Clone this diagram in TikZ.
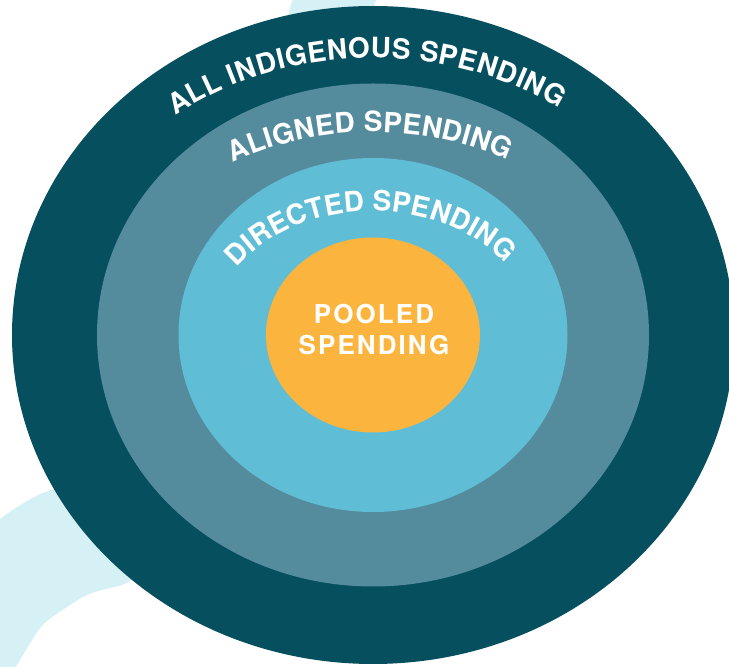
\documentclass[tikz,border=0pt]{standalone}
\usepackage{fontspec}
\usetikzlibrary{decorations.text}

\newfontfamily\heros{TeX Gyre Heros}
\newfontfamily\herosspaced{TeX Gyre Heros}[LetterSpace=8]
\newcommand\ringlabelfont{\heros\bfseries\fontsize{28}{32}\selectfont}

\definecolor{ringdark}{HTML}{054F5F}
\definecolor{ringmid}{HTML}{548B9D}
\definecolor{ringlight}{HTML}{5FBDD6}
\definecolor{pooledfill}{HTML}{FBB53F}
\definecolor{brush}{HTML}{D6F1F5}

\tikzset{
  ringtext/.style={decorate, decoration={text along path, text align=fit to path,
    text color=white, text={|\ringlabelfont|#1}}},
  pooledtext/.style={text=white, align=center,
    font=\herosspaced\bfseries\fontsize{26}{31}\selectfont}
}

\begin{document}
\begin{tikzpicture}[x=1pt,y=1pt]
  % Fix the page to the size of the picture
  \useasboundingbox (0,0) rectangle (729,667);
  \clip (0,0) rectangle (729,667);
  \coordinate (c) at (373,332);

  % Brush strokes behind the rings
  \fill[brush, rounded corners=6pt] (294,672) -- (380,672) -- (366,650) -- (286,645) -- cycle;
  \fill[brush, rounded corners=10pt] (-5,145) -- (20,162) -- (43,175) -- (60,179) -- (150,107)
    -- (130,84) -- (87,73) -- (67,60) -- (43,44) -- (27,19) -- (13,-5) -- (-5,-5) -- cycle;

  % Rings from the outside in
  \foreach \rx/\ry/\col in {361/329/ringdark, 276/251.5/ringmid, 194.5/177/ringlight, 107/97.5/pooledfill}
    \fill[\col] (c) ellipse[x radius=\rx pt, y radius=\ry pt];

  % Curved labels along the rings
  \path[ringtext={ALL INDIGENOUS SPENDING}] ([shift={(c)}]127.5:325pt and 277pt)
    arc[start angle=127.5, end angle=55, x radius=325pt, y radius=277pt];
  \path[ringtext={ALIGNED SPENDING}] ([shift={(c)}]122:265pt and 203pt)
    arc[start angle=122, end angle=59.4, x radius=265pt, y radius=203pt];
  \path[ringtext={DIRECTED SPENDING}] ([shift={(c)}]147:162pt and 124pt)
    arc[start angle=147, end angle=35.4, x radius=162pt, y radius=124pt];

  \node[pooledtext] (pooled) at (374,337) {POOLED\\SPENDING};
\end{tikzpicture}
\end{document}
